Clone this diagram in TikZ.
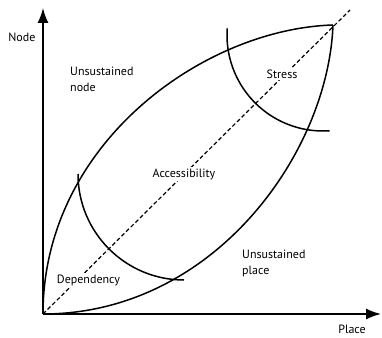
\documentclass[tikz,border=0pt]{standalone}
\usepackage{fontspec}
\setmainfont{PT Sans}
\usetikzlibrary{arrows.meta}

\begin{document}
\begin{tikzpicture}[x=1pt, y=1pt, >={Latex[length=15pt,width=11pt]}, every node/.style={font=\fontsize{12}{16}\selectfont}]
  \useasboundingbox (-43,-23) rectangle (339,314);
  \coordinate (O) at (0,0);
  \coordinate (tip) at (290,289);
  \coordinate (ytop) at (0,306);
  \coordinate (xend) at (338,0);
  \coordinate (dend) at (307,304);
  % axes
  \draw[line width=1.6pt, ->] (O) -- (ytop);
  \draw[line width=1.6pt, ->] (O) -- (xend);
  \draw[line width=1.2pt, dash pattern=on 4pt off 2.5pt] (O) -- (dend);
  % lens
  \draw[line width=1.5pt] (O) .. controls (0,170) and (160,285) .. (tip);
  \draw[line width=1.5pt] (O) .. controls (170,0) and (285,160) .. (tip);
  % arcs
  \draw[line width=1.5pt] (141,140) ++(180:106) arc[start angle=180, end angle=270, radius=106];
  \draw[line width=1.5pt] (280,279) ++(176:96) arc[start angle=176, end angle=274, radius=96];
  \node[anchor=east] (ylabel) at (-4,277) {Node};
  \node (xlabel) at (309,-15) {Place};
  \node[anchor=west, align=left, inner sep=0] (unode) at (27,234.5) {Unsustained\\node};
  \node[anchor=west, align=left, inner sep=0] (uplace) at (199,51) {Unsustained\\place};
  \node[fill=white, inner sep=2pt] (acc) at (141,140) {Accessibility};
  \node[fill=white, inner sep=2pt] (dep) at (45.5,34) {Dependency};
  \node[fill=white, inner sep=2pt] (stress) at (239,240) {Stress};
\end{tikzpicture}
\end{document}
